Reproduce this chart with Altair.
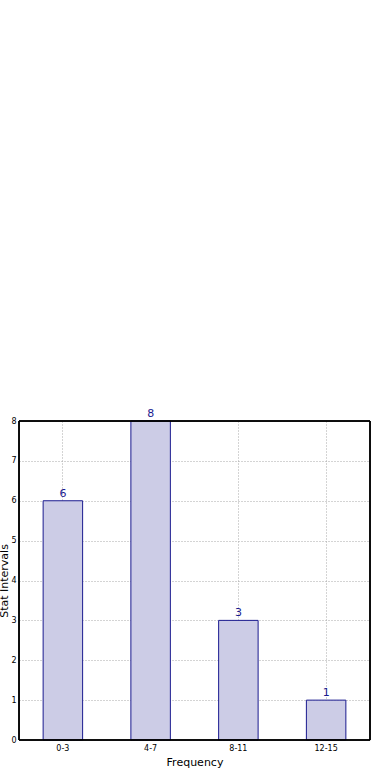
import altair as alt
import pandas as pd

categories = ["0-3", "4-7", "8-11", "12-15"]
counts = [6, 8, 3, 1]

df = pd.DataFrame({"interval": categories, "count": counts})

x = alt.X("interval:N", sort=categories, title="Frequency",
          scale=alt.Scale(paddingInner=0.55, paddingOuter=0.275),
          axis=alt.Axis(labelAngle=0, labelFontSize=8, labelColor="#000000",
                        titleFontSize=11, titleFontWeight="normal", titlePadding=4,
                        labelPadding=4, ticks=False, domain=False,
                        grid=True, bandPosition=0.5, gridColor="#a8a8a8",
                        gridDash=[1, 2], gridWidth=1))
y = alt.Y("count:Q", title="Stat Intervals",
          scale=alt.Scale(domain=[0, 8], nice=False),
          axis=alt.Axis(values=list(range(0, 9)), labelFontSize=8, labelColor="#000000",
                        labelOverlap=False, labelFlush=False,
                        titleFontSize=11, titleFontWeight="normal", titlePadding=1,
                        labelPadding=3, ticks=False, domain=False,
                        grid=True, gridColor="#a8a8a8", gridDash=[1, 2], gridWidth=1))

bars = alt.Chart(df).mark_bar(fill="#ccccE6", stroke="#1a1a8f", strokeWidth=1).encode(x=x, y=y)
labels = alt.Chart(df).mark_text(baseline="bottom", dy=-2, fontSize=11, color="#1a1a8f",
                                 font="DejaVu Sans").encode(x=x, y=y, text="count:Q")
frame = alt.Chart(df).mark_rect(fill=None, stroke="black", strokeWidth=1).encode(
    x=alt.value(0), x2=alt.value(351), y=alt.value(0), y2=alt.value(319))

chart = (bars + labels + frame).properties(
    width=351, height=319,
    autosize=alt.AutoSizeParams(type="none"),
    padding={"left": 19, "top": 421, "right": 20, "bottom": 40},
    background="white",
).configure_view(stroke="black", strokeWidth=1).configure(
    font="DejaVu Sans"
).configure_axis(labelFont="DejaVu Sans", titleFont="DejaVu Sans", titleColor="#000000")

chart.save("out.html", embed_options={"renderer": "svg", "actions": False})
